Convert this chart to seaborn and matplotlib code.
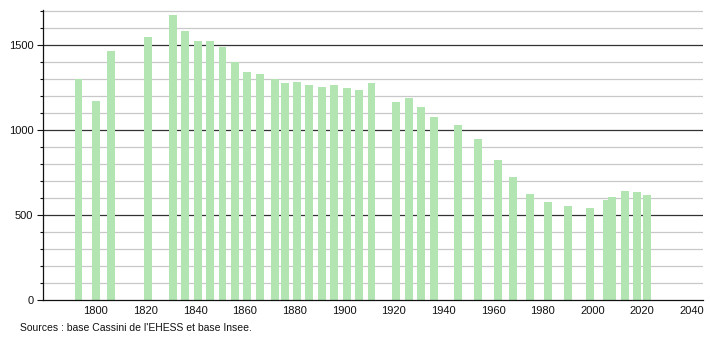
import matplotlib
matplotlib.use("Agg")
import matplotlib.pyplot as plt
import seaborn as sns
import pandas as pd
from matplotlib.ticker import MultipleLocator

years = [1793, 1800, 1806, 1821, 1831, 1836, 1841, 1846, 1851, 1856, 1861, 1866,
         1872, 1876, 1881, 1886, 1891, 1896, 1901, 1906, 1911, 1921, 1926, 1931,
         1936, 1946, 1954, 1962, 1968, 1975, 1982, 1990, 1999, 2006, 2008, 2013,
         2018, 2022]
population = [1298, 1171, 1465, 1547, 1676, 1582, 1524, 1524, 1488, 1400, 1343, 1329,
              1298, 1273, 1282, 1265, 1251, 1265, 1249, 1237, 1276, 1165, 1188, 1135,
              1078, 1029, 947, 824, 724, 624, 576, 553, 541, 588, 606, 641,
              635, 618]
x_ticks = [1800, 1820, 1840, 1860, 1880, 1900, 1920, 1940, 1960, 1980, 2000, 2020, 2040]
y_ticks = [0, 500, 1000, 1500]
source_text = "Sources : base Cassini de l'EHESS et base Insee."

sns.set_style("white")
plt.rcParams['font.family'] = ['Liberation Sans', 'DejaVu Sans']

df = pd.DataFrame({"year": years, "pop": population})

fig = plt.figure(figsize=(7.1, 3.4), dpi=100)
ax = fig.add_axes([43 / 710, 40 / 340, 660 / 710, 290 / 340])

# grid lines
for v in range(100, 1800, 100):
    if v % 500 == 0:
        ax.axhline(v, color="#333333", lw=0.9, zorder=0)
    else:
        ax.axhline(v, color="#c8c8c8", lw=0.9, zorder=0)

sns.barplot(data=df, x="year", y="pop", native_scale=True, width=1.6,
            color="#b2e5b2", saturation=1, edgecolor="none", linewidth=0,
            ax=ax, zorder=2)

ax.set_xlim(1778.7, 2044.5)
ax.set_ylim(0, 1705)
ax.set_xticks(x_ticks)
ax.set_xticklabels([str(t) for t in x_ticks])
ax.set_yticks(y_ticks)
ax.yaxis.set_minor_locator(MultipleLocator(100))
ax.set_xlabel("")
ax.set_ylabel("")
ax.tick_params(axis="x", length=0, labelsize=8, pad=4, colors="#111111")
ax.tick_params(axis="y", which="major", left=True, length=4, labelsize=8, pad=3,
               colors="#111111", width=0.8)
ax.tick_params(axis="y", which="minor", left=True, length=2, width=0.8, colors="#111111")

for s in ["top", "right"]:
    ax.spines[s].set_visible(False)
for s in ["left", "bottom"]:
    ax.spines[s].set_color("#111111")
    ax.spines[s].set_linewidth(0.9)

fig.text(20 / 710, 1 - 328 / 340, source_text, fontsize=7.5, color="#111111",
         va="center", ha="left")

fig.savefig("out.png", dpi=100, facecolor="white")
